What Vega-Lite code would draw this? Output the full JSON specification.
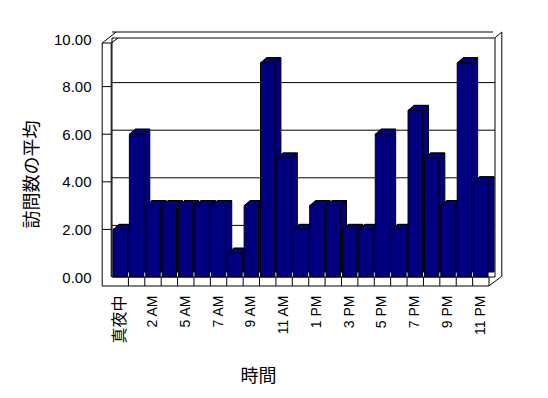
{
  "$schema": "https://vega.github.io/schema/vega-lite/v6.json",
  "width": 377,
  "height": 238,
  "autosize": {"type": "none"},
  "padding": {"left": 112, "top": 39, "right": 59, "bottom": 121},
  "background": "white",
  "config": {"view": {"stroke": null}},
  "datasets": {
    "visits": [
      {"hour": "真夜中", "v": 2},
      {"hour": "1 AM", "v": 6},
      {"hour": "2 AM", "v": 3},
      {"hour": "3 AM", "v": 3},
      {"hour": "5 AM", "v": 3},
      {"hour": "6 AM", "v": 3},
      {"hour": "7 AM", "v": 3},
      {"hour": "8 AM", "v": 1},
      {"hour": "9 AM", "v": 3},
      {"hour": "10 AM", "v": 9},
      {"hour": "11 AM", "v": 5},
      {"hour": "正午", "v": 2},
      {"hour": "1 PM", "v": 3},
      {"hour": "2 PM", "v": 3},
      {"hour": "3 PM", "v": 2},
      {"hour": "4 PM", "v": 2},
      {"hour": "5 PM", "v": 6},
      {"hour": "6 PM", "v": 2},
      {"hour": "7 PM", "v": 7},
      {"hour": "8 PM", "v": 5},
      {"hour": "9 PM", "v": 3},
      {"hour": "10 PM", "v": 9},
      {"hour": "11 PM", "v": 4}
    ],
    "grid": [{"g": 2}, {"g": 4}, {"g": 6}, {"g": 8}],
    "one": [{"k": 1}]
  },
  "layer": [
    {
      "data": {"name": "one"},
      "mark": {"type": "rect", "fill": null, "stroke": "black", "strokeWidth": 1, "xOffset": 6, "x2Offset": 6, "yOffset": -1},
      "encoding": {
        "y": {"datum": 10, "type": "quantitative"},
        "y2": {"datum": 0}
      }
    },
    {
      "data": {"name": "grid"},
      "mark": {"type": "rule", "color": "black", "strokeWidth": 1, "xOffset": 6, "x2Offset": 6, "yOffset": -4},
      "encoding": {
        "y": {"field": "g", "type": "quantitative", "title": "訪問数の平均"}
      }
    },
    {
      "data": {"name": "grid"},
      "mark": {"type": "rule", "color": "black", "strokeWidth": 1, "xOffset": -18, "x2Offset": -9},
      "encoding": {
        "y": {"field": "g", "type": "quantitative", "title": "訪問数の平均"},
        "x": {"datum": "真夜中"},
        "x2": {"datum": "真夜中"}
      }
    },
    {
      "data": {"name": "one"},
      "mark": {"type": "rule", "color": "black", "strokeWidth": 1, "xOffset": 4, "x2Offset": 13, "yOffset": -7},
      "encoding": {"y": {"datum": 10, "type": "quantitative"}}
    },
    {
      "data": {"name": "one"},
      "mark": {"type": "rule", "color": "black", "strokeWidth": 1, "xOffset": 21, "yOffset": -7},
      "encoding": {
        "x": {"datum": "11 PM"},
        "y": {"datum": 10, "type": "quantitative"},
        "y2": {"datum": 0}
      }
    },
    {
      "data": {"name": "one"},
      "mark": {"type": "rule", "color": "black", "strokeWidth": 1, "xOffset": 8, "x2Offset": 20, "yOffset": 9},
      "encoding": {
        "x": {"datum": "11 PM"},
        "x2": {"datum": "11 PM"},
        "y": {"datum": 0, "type": "quantitative"},
        "y2": {"datum": 0}
      }
    },
    {
      "data": {"name": "one"},
      "mark": {"type": "rule", "color": "black", "strokeWidth": 1, "xOffset": 14, "x2Offset": 21, "yOffset": -1, "y2Offset": -7},
      "encoding": {
        "x": {"datum": "11 PM"},
        "x2": {"datum": "11 PM"},
        "y": {"datum": 10, "type": "quantitative"},
        "y2": {"datum": 10}
      }
    },
    {
      "data": {"name": "one"},
      "mark": {"type": "rule", "color": "black", "strokeWidth": 1, "xOffset": -18, "yOffset": 4, "y2Offset": 9},
      "encoding": {
        "x": {"datum": "真夜中"},
        "y": {"datum": 10, "type": "quantitative"},
        "y2": {"datum": 0}
      }
    },
    {
      "data": {"name": "one"},
      "mark": {"type": "rule", "color": "black", "strokeWidth": 1, "xOffset": -9, "yOffset": 4},
      "encoding": {
        "x": {"datum": "真夜中"},
        "y": {"datum": 10, "type": "quantitative"},
        "y2": {"datum": 0}
      }
    },
    {
      "data": {"name": "one"},
      "mark": {"type": "rule", "color": "black", "strokeWidth": 1, "xOffset": -18, "x2Offset": -9, "yOffset": 4, "y2Offset": 4},
      "encoding": {
        "x": {"datum": "真夜中"},
        "x2": {"datum": "真夜中"},
        "y": {"datum": 10, "type": "quantitative"},
        "y2": {"datum": 10}
      }
    },
    {
      "data": {"name": "one"},
      "mark": {"type": "rule", "color": "black", "strokeWidth": 1, "xOffset": -18, "x2Offset": -4, "yOffset": 4, "y2Offset": -7},
      "encoding": {
        "x": {"datum": "真夜中"},
        "x2": {"datum": "真夜中"},
        "y": {"datum": 10, "type": "quantitative"},
        "y2": {"datum": 10}
      }
    },
    {
      "data": {"name": "one"},
      "mark": {"type": "rule", "color": "black", "strokeWidth": 1, "xOffset": -9, "x2Offset": -2, "yOffset": 4, "y2Offset": -1},
      "encoding": {
        "x": {"datum": "真夜中"},
        "x2": {"datum": "真夜中"},
        "y": {"datum": 10, "type": "quantitative"},
        "y2": {"datum": 10}
      }
    },
    {
      "data": {"name": "one"},
      "mark": {"type": "rule", "color": "black", "strokeWidth": 1, "xOffset": -18, "x2Offset": 8, "yOffset": 9, "y2Offset": 9},
      "encoding": {
        "x": {"datum": "真夜中"},
        "x2": {"datum": "11 PM"},
        "y": {"datum": 0, "type": "quantitative"},
        "y2": {"datum": 0}
      }
    },
    {
      "data": {"name": "visits"},
      "mark": {"type": "bar", "fill": "#000080", "stroke": "black", "strokeWidth": 1, "xOffset": 6, "yOffset": -5, "y2Offset": -5},
      "encoding": {
        "x": {"field": "hour", "type": "nominal", "sort": null},
        "y": {"field": "v", "type": "quantitative", "title": "訪問数の平均"}
      }
    },
    {
      "data": {"name": "visits"},
      "mark": {"type": "point", "filled": true, "fill": "#000080", "stroke": "black", "strokeWidth": 1, "opacity": 1, "size": 400, "shape": "M-0.721,0L0.721,0L1.321,-0.5L-0.121,-0.5Z"},
      "encoding": {
        "x": {"field": "hour", "type": "nominal", "sort": null},
        "y": {"field": "v", "type": "quantitative", "title": "訪問数の平均"}
      }
    },
    {
      "data": {"name": "visits"},
      "mark": {"type": "bar", "fill": "#000080", "stroke": "black", "strokeWidth": 1},
      "encoding": {
        "x": {
          "field": "hour", "type": "nominal", "sort": null,
          "scale": {
            "type": "band", "paddingInner": 0.12, "paddingOuter": 0.06,
            "domain": ["真夜中","1 AM","2 AM","3 AM","5 AM","6 AM","7 AM","8 AM","9 AM","10 AM","11 AM","正午","1 PM","2 PM","3 PM","4 PM","5 PM","6 PM","7 PM","8 PM","9 PM","10 PM","11 PM"]
          },
          "axis": {
            "title": "時間",
            "domain": false, "ticks": false, "grid": false,
            "labelAngle": 270, "labelAlign": "right", "labelBaseline": "middle",
            "labelPadding": 18, "labelOverlap": false,
            "labelFont": "Liberation Sans, Noto Sans CJK JP",
            "labelFontSize": {"expr": "datum.value == '真夜中' ? 16 : 14"},
            "labelColor": "black",
            "labelExpr": "indexof(['真夜中','2 AM','5 AM','7 AM','9 AM','11 AM','1 PM','3 PM','5 PM','7 PM','9 PM','11 PM'], datum.value) >= 0 ? datum.value : ''",
            "titleFont": "Noto Sans CJK JP", "titleFontSize": 18, "titleFontWeight": "normal", "titleColor": "black",
            "titleX": 146, "titleY": 99, "titleBaseline": "middle", "titleAlign": "center"
          }
        },
        "y": {
          "field": "v", "type": "quantitative",
          "scale": {"domain": [0, 10], "nice": false},
          "title": "訪問数の平均",
          "axis": {
            "values": [0, 2, 4, 6, 8, 10], "format": ".2f",
            "domain": false, "ticks": false, "grid": false,
            "labelPadding": 21, "labelFont": "Liberation Sans", "labelFontSize": 15, "labelColor": "black",
            "titleFont": "Noto Sans CJK JP", "titleFontSize": 18, "titleFontWeight": "normal", "titleColor": "black",
            "titleX": -80, "titleY": 135, "titleBaseline": "middle", "titleAlign": "center", "titleAngle": 270
          }
        }
      }
    },
    {
      "data": {"name": "visits"},
      "mark": {"type": "rule", "color": "black", "strokeWidth": 1, "xOffset": 1, "y2Offset": 9},
      "encoding": {
        "x": {"field": "hour", "type": "nominal", "sort": null, "bandPosition": 1},
        "y": {"datum": 0, "type": "quantitative"},
        "y2": {"datum": 0}
      }
    }
  ]
}
